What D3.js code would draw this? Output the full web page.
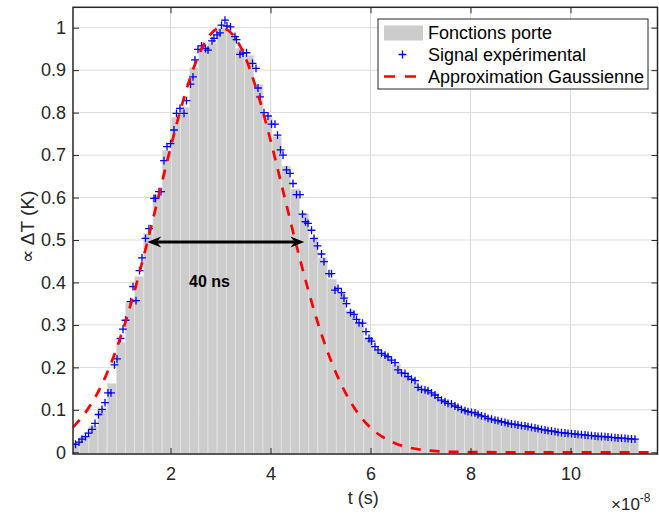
<!DOCTYPE html>
<html>
<head>
<meta charset="utf-8">
<script src="https://cdn.jsdelivr.net/npm/d3@7"></script>
<style>
  body { margin: 0; background: #fff; }
  svg { font-family: "Liberation Sans", Arial, Helvetica, sans-serif; }
</style>
</head>
<body>
<svg id="drawing_region"></svg>
<script>
// time in units of 1e-8 s
const signalT = [0.10,0.17,0.23,0.30,0.36,0.43,0.49,0.56,0.63,0.69,0.75,0.81,0.88,0.93,1.00,1.05,1.10,1.20,1.25,1.31,
  1.38,1.43,1.50,1.57,1.67,1.70,1.77,1.81,1.87,1.93,2.00,2.07,2.12,2.19,2.27,2.32,2.40,2.45,2.49,2.55,
  2.62,2.70,2.75,2.83,2.87,2.93,2.99,3.02,3.09,3.13,3.20,3.29,3.32,3.39,3.45,3.52,3.64,3.71,3.75,3.79,
  3.87,3.95,4.02,4.09,4.14,4.20,4.25,4.32,4.39,4.45,4.52,4.59,4.64,4.70,4.75,4.82,4.87,4.94,5.02,5.07,
  5.17,5.22,5.29,5.35,5.42,5.47,5.52,5.60,5.67,5.72,5.77,5.84,5.91,5.97,6.02,6.09,6.15,6.22,6.29,6.35,
  6.42,6.49,6.55,6.62,6.69,6.75,6.82,6.89,6.95,7.02,7.09,7.15,7.22,7.29,7.35,7.42,7.49,7.55,7.62,7.69,
  7.75,7.82,7.89,7.95,8.02,8.09,8.15,8.22,8.29,8.35,8.42,8.49,8.55,8.62,8.69,8.75,8.82,8.89,8.95,9.02,
  9.09,9.15,9.22,9.29,9.35,9.42,9.49,9.55,9.62,9.69,9.75,9.82,9.89,9.95,10.02,10.09,10.15,10.22,10.29,10.35,
  10.42,10.49,10.55,10.62,10.69,10.75,10.82,10.89,10.95,11.02,11.09,11.15,11.22,11.29];
const signalV = [0.019,0.024,0.031,0.037,0.045,0.054,0.068,0.089,0.101,0.117,0.140,0.140,0.206,0.220,0.268,0.290,0.311,0.355,0.390,0.357,
  0.428,0.458,0.504,0.527,0.598,0.598,0.614,0.614,0.687,0.720,0.727,0.759,0.798,0.810,0.798,0.828,0.867,0.884,0.924,0.949,
  0.957,0.951,0.947,0.969,0.975,0.983,0.988,1.006,1.018,1.004,1.002,0.979,0.972,0.937,0.940,0.941,0.916,0.904,0.858,0.837,
  0.800,0.792,0.773,0.773,0.747,0.712,0.700,0.665,0.657,0.633,0.607,0.607,0.561,0.543,0.539,0.523,0.504,0.486,0.467,0.449,
  0.421,0.421,0.382,0.386,0.376,0.363,0.350,0.329,0.325,0.313,0.305,0.304,0.284,0.268,0.262,0.249,0.241,0.233,0.229,0.225,
  0.217,0.211,0.194,0.187,0.186,0.178,0.172,0.169,0.153,0.148,0.147,0.145,0.140,0.135,0.129,0.123,0.119,0.115,0.114,0.109,
  0.106,0.101,0.098,0.096,0.094,0.093,0.089,0.086,0.084,0.080,0.078,0.076,0.0745,0.072,0.0706,0.0683,0.0667,0.0659,0.0643,0.0627,
  0.062,0.0604,0.0588,0.0572,0.0557,0.054,0.0525,0.051,0.0502,0.0486,0.047,0.0462,0.0455,0.0447,0.0439,0.0431,0.0423,0.0415,0.0407,0.0400,
  0.0392,0.0384,0.0376,0.0372,0.0368,0.0360,0.0352,0.0345,0.0337,0.0333,0.0329,0.0321,0.0313,0.0309];

// gate functions: bins of equal width starting at t = 0
const binStart = 0;
const binWidth = 0.1833;
const barHeights = [0.022,0.038,0.061,0.102,0.162,0.259,0.352,0.414,0.515,0.606,
  0.711,0.789,0.813,0.906,0.954,0.964,0.999,0.987,0.952,0.935,
  0.866,0.788,0.744,0.674,0.620,0.562,0.504,0.458,0.408,0.375,
  0.335,0.307,0.271,0.241,0.224,0.207,0.184,0.165,0.147,0.140,
  0.124,0.113,0.103,0.096,0.090,0.081,0.075,0.070,0.066,0.062,
  0.057,0.053,0.050,0.046,0.044,0.042,0.040,0.038,0.036,0.0345,
  0.0328,0.031];

// gaussian approximation
const gaussT = [0.05,0.25,0.5,0.75,1.0,1.25,1.5,1.75,2.0,2.25,2.5,2.75,3.0,3.25,3.5,3.75,4.0,4.25,4.5,4.75,
  5.0,5.25,5.5,5.75,6.0,6.25,6.5,6.75,7.0,7.25,7.5,7.75,8.0,9.0,10.0,11.0,11.74];
const gaussV = [0.059,0.086,0.131,0.192,0.271,0.367,0.478,0.597,0.717,0.827,0.917,0.977,1.0,0.983,0.929,0.843,0.735,0.616,0.496,0.384,
  0.285,0.204,0.140,0.092,0.058,0.0355,0.0208,0.0117,0.0063,0.0033,0.0016,0.0008,0.0004,0,0,0,0];

const xTicks = [2, 4, 6, 8, 10];
const yTicks = [0, 0.1, 0.2, 0.3, 0.4, 0.5, 0.6, 0.7, 0.8, 0.9, 1];
const xDomain = [0.05, 11.74];
const yDomain = [-0.004, 1.048];
const fwhm = {t0: 1.536, t1: 4.676, v: 0.495, label: "40 ns", labelT: 2.78, labelV: 0.39};
const legendItems = ["Fonctions porte", "Signal expérimental", "Approximation Gaussienne"];

const width = 659, height = 515;
const margin = {top: 7.3, right: 1.5, bottom: 61, left: 73};
const iw = width - margin.left - margin.right;
const ih = height - margin.top - margin.bottom;
const axisColor = "#262626";

const svg = d3.select("#drawing_region").attr("width", width).attr("height", height);
const chart = svg.append("g").attr("transform", `translate(${margin.left},${margin.top})`);

const xscale = d3.scaleLinear().domain(xDomain).range([0, iw]);
const yscale = d3.scaleLinear().domain(yDomain).range([ih, 0]);

svg.append("defs").append("clipPath").attr("id", "clip")
  .append("rect").attr("width", iw).attr("height", ih);

// grid
const grid = chart.append("g");
grid.selectAll(".gx").data(xTicks).enter().append("line")
  .attr("x1", d => xscale(d)).attr("x2", d => xscale(d))
  .attr("y1", 0).attr("y2", ih)
  .attr("stroke", "#dcdcdc").attr("stroke-width", 1);
grid.selectAll(".gy").data(yTicks).enter().append("line")
  .attr("x1", 0).attr("x2", iw)
  .attr("y1", d => yscale(d)).attr("y2", d => yscale(d))
  .attr("stroke", "#dcdcdc").attr("stroke-width", 1);

const plot = chart.append("g").attr("clip-path", "url(#clip)");

// bars
plot.selectAll("rect.bar").data(barHeights).enter().append("rect")
  .attr("class", "bar")
  .attr("x", (d, i) => xscale(binStart + i * binWidth))
  .attr("width", (d, i) => xscale(binStart + (i + 1) * binWidth) - xscale(binStart + i * binWidth))
  .attr("y", d => yscale(d))
  .attr("height", d => yscale(0) - yscale(d) + 1)
  .attr("fill", "#cccccc")
  .attr("stroke", "#e4e4e4")
  .attr("stroke-width", 0.8);

// markers
const plus = "M-3.9,0H3.9M0,-3.9V3.9";
plot.selectAll("path.pt").data(signalT).enter().append("path")
  .attr("class", "pt")
  .attr("transform", (d, i) => `translate(${xscale(d)},${yscale(signalV[i])})`)
  .attr("d", plus)
  .attr("stroke", "#0000ff").attr("stroke-width", 1.3).attr("fill", "none");

// gaussian
const line = d3.line()
  .x((d, i) => xscale(gaussT[i]))
  .y(d => yscale(d))
  .curve(d3.curveMonotoneX);
plot.append("path").datum(gaussV)
  .attr("d", line)
  .attr("fill", "none")
  .attr("stroke", "#ff0000")
  .attr("stroke-width", 2.7)
  .attr("stroke-dasharray", "10,9");

// fwhm arrow
const ay = yscale(fwhm.v), ax0 = xscale(fwhm.t0), ax1 = xscale(fwhm.t1);
chart.append("line")
  .attr("x1", ax0 + 8).attr("x2", ax1 - 8).attr("y1", ay).attr("y2", ay)
  .attr("stroke", "#000").attr("stroke-width", 3);
const head = "M0,0L-14,-5.5L-9.5,0L-14,5.5Z";
chart.append("path").attr("d", head).attr("fill", "#000")
  .attr("transform", `translate(${ax1},${ay})`);
chart.append("path").attr("d", head).attr("fill", "#000")
  .attr("transform", `translate(${ax0},${ay}) scale(-1,1)`);
chart.append("text")
  .attr("x", xscale(fwhm.labelT)).attr("y", yscale(fwhm.labelV))
  .attr("text-anchor", "middle")
  .attr("font-size", 16).attr("font-weight", "bold")
  .text(fwhm.label);

// axes
const xaxis = d3.axisBottom(xscale).tickValues(xTicks).tickSizeInner(-6).tickSizeOuter(0).tickPadding(13).tickFormat(d3.format("d"));
const yaxis = d3.axisLeft(yscale).tickValues(yTicks).tickSizeInner(-6).tickSizeOuter(0).tickPadding(7).tickFormat(d => d === 0 ? "0" : d === 1 ? "1" : d3.format(".1f")(d));
const xaxisTop = d3.axisTop(xscale).tickValues(xTicks).tickSizeInner(-6).tickSizeOuter(0).tickFormat("");
const yaxisRight = d3.axisRight(yscale).tickValues(yTicks).tickSizeInner(-6).tickSizeOuter(0).tickFormat("");

function style(g) {
  g.select(".domain").remove();
  g.selectAll("line").attr("stroke", axisColor).attr("stroke-width", 1);
  g.selectAll("text").attr("fill", axisColor).attr("font-size", 18)
    .attr("font-family", "'Liberation Sans', Arial, sans-serif");
}
chart.append("g").attr("transform", `translate(0,${ih})`).call(xaxis).call(style);
chart.append("g").call(yaxis).call(style);
chart.append("g").call(xaxisTop).call(style);
chart.append("g").attr("transform", `translate(${iw},0)`).call(yaxisRight).call(style);

// box
chart.append("rect").attr("width", iw).attr("height", ih)
  .attr("fill", "none").attr("stroke", axisColor).attr("stroke-width", 1.5);

// labels
svg.append("text")
  .attr("x", margin.left + iw / 2 - 2).attr("y", 504)
  .attr("text-anchor", "middle").attr("font-size", 18).attr("fill", axisColor)
  .text("t (s)");
svg.append("text")
  .attr("transform", `translate(34,227) rotate(-90)`)
  .attr("text-anchor", "middle").attr("font-size", 19).attr("fill", axisColor)
  .text("∝ ΔT (K)");
const expo = svg.append("text").attr("x", 611).attr("y", 510).attr("font-size", 17).attr("fill", axisColor);
expo.append("tspan").text("×10");
expo.append("tspan").attr("dy", -8).attr("font-size", 12).text("-8");

// legend
const lg = svg.append("g").attr("transform", "translate(378,19)");
lg.append("rect").attr("width", 270).attr("height", 70)
  .attr("fill", "#fff").attr("stroke", axisColor).attr("stroke-width", 1);
const rowY = [14, 35.5, 57.5];
lg.append("rect").attr("x", 6).attr("y", rowY[0] - 7.5).attr("width", 39).attr("height", 15).attr("fill", "#cccccc");
lg.append("path").attr("d", plus).attr("transform", `translate(24.5,${rowY[1]})`)
  .attr("stroke", "#0000ff").attr("stroke-width", 1.3).attr("fill", "none");
lg.append("line").attr("x1", 6).attr("x2", 45).attr("y1", rowY[2]).attr("y2", rowY[2])
  .attr("stroke", "#ff0000").attr("stroke-width", 2.7).attr("stroke-dasharray", "11,10");
lg.selectAll("text.lt").data(legendItems).enter().append("text")
  .attr("x", 50).attr("y", (d, i) => rowY[i]).attr("dy", "0.36em")
  .attr("font-size", 18).attr("fill", "#000")
  .text(d => d);
</script>
</body>
</html>
